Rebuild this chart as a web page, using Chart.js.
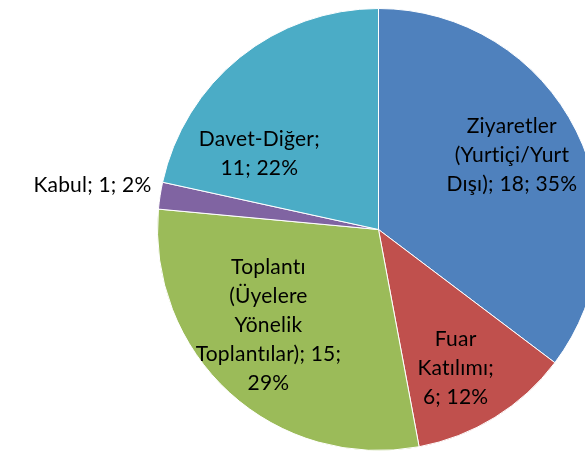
<!DOCTYPE html>
<html lang="tr">
<head>
<meta charset="UTF-8">
<title>Pie</title>
<script src="https://cdn.jsdelivr.net/npm/chart.js"></script>
<style>
  html, body { margin: 0; padding: 0; background: #fff; overflow: hidden; }
  #wrap { position: absolute; left: 0; top: 0; width: 600px; height: 454px; }
</style>
</head>
<body>
<div id="wrap"><canvas id="pie" width="600" height="454"></canvas></div>
<script>
// data
const categories = [
  'Ziyaretler (Yurtiçi/Yurt Dışı)',
  'Fuar Katılımı',
  'Toplantı (Üyelere Yönelik Toplantılar)',
  'Kabul',
  'Davet-Diğer'
];
const values = [18, 6, 15, 1, 11];
const percents = [35, 12, 29, 2, 22];
const colors = ['#4F81BD', '#C0504D', '#9BBB59', '#8064A2', '#4BACC6'];

// label placement: angle (deg, clockwise from top), distance as fraction of radius, wrap width
const labelPlace = [
  { angle: 61, dist: 0.69, wrap: 140 },
  { angle: 151, dist: 0.72, wrap: 90 },
  { angle: 229, dist: 0.66, wrap: 150 },
  { outside: true, dx: -227, dy: -44 },
  { angle: 302.6, dist: 0.64, wrap: 130 }
];

function wrapText(ctx, text, maxW) {
  const words = text.split(' ');
  const lines = [];
  let cur = '';
  words.forEach(w => {
    const test = cur ? cur + ' ' + w : w;
    if (cur && ctx.measureText(test).width > maxW) {
      lines.push(cur);
      cur = w;
    } else {
      cur = test;
    }
  });
  if (cur) lines.push(cur);
  return lines;
}

const pieLabels = {
  id: 'pieLabels',
  afterDraw(chart) {
    const ctx = chart.ctx;
    const arcs = chart.getDatasetMeta(0).data;
    ctx.save();
    ctx.font = '21px Lato';
    ctx.letterSpacing = '0.2px'; // keeps "ti" from turning into a ligature
    ctx.fillStyle = '#000';
    ctx.textBaseline = 'middle';
    const lh = 29;
    arcs.forEach((arc, i) => {
      const p = labelPlace[i];
      const text = categories[i] + '; ' + values[i] + '; ' + percents[i] + '%';
      if (p.outside) {
        ctx.textAlign = 'right';
        ctx.fillText(text, arc.x + p.dx, arc.y + p.dy);
        return;
      }
      const a = p.angle * Math.PI / 180;
      const r = arc.outerRadius * p.dist;
      const cx = arc.x + Math.sin(a) * r;
      const cy = arc.y - Math.cos(a) * r;
      const lines = wrapText(ctx, text, p.wrap);
      ctx.textAlign = 'center';
      const y0 = cy - (lines.length - 1) * lh / 2;
      lines.forEach((ln, k) => ctx.fillText(ln, cx, y0 + k * lh));
    });
    ctx.restore();
  }
};

new Chart(document.getElementById('pie'), {
  type: 'pie',
  data: {
    labels: categories,
    datasets: [{
      data: values,
      backgroundColor: colors,
      borderColor: '#ffffff',
      borderWidth: 1,
      hoverOffset: 0
    }]
  },
  options: {
    responsive: false,
    animation: false,
    layout: { padding: { left: 157, top: 8, right: 0, bottom: 3 } },
    plugins: {
      legend: { display: false },
      tooltip: { enabled: false }
    }
  },
  plugins: [pieLabels]
});
</script>
</body>
</html>
